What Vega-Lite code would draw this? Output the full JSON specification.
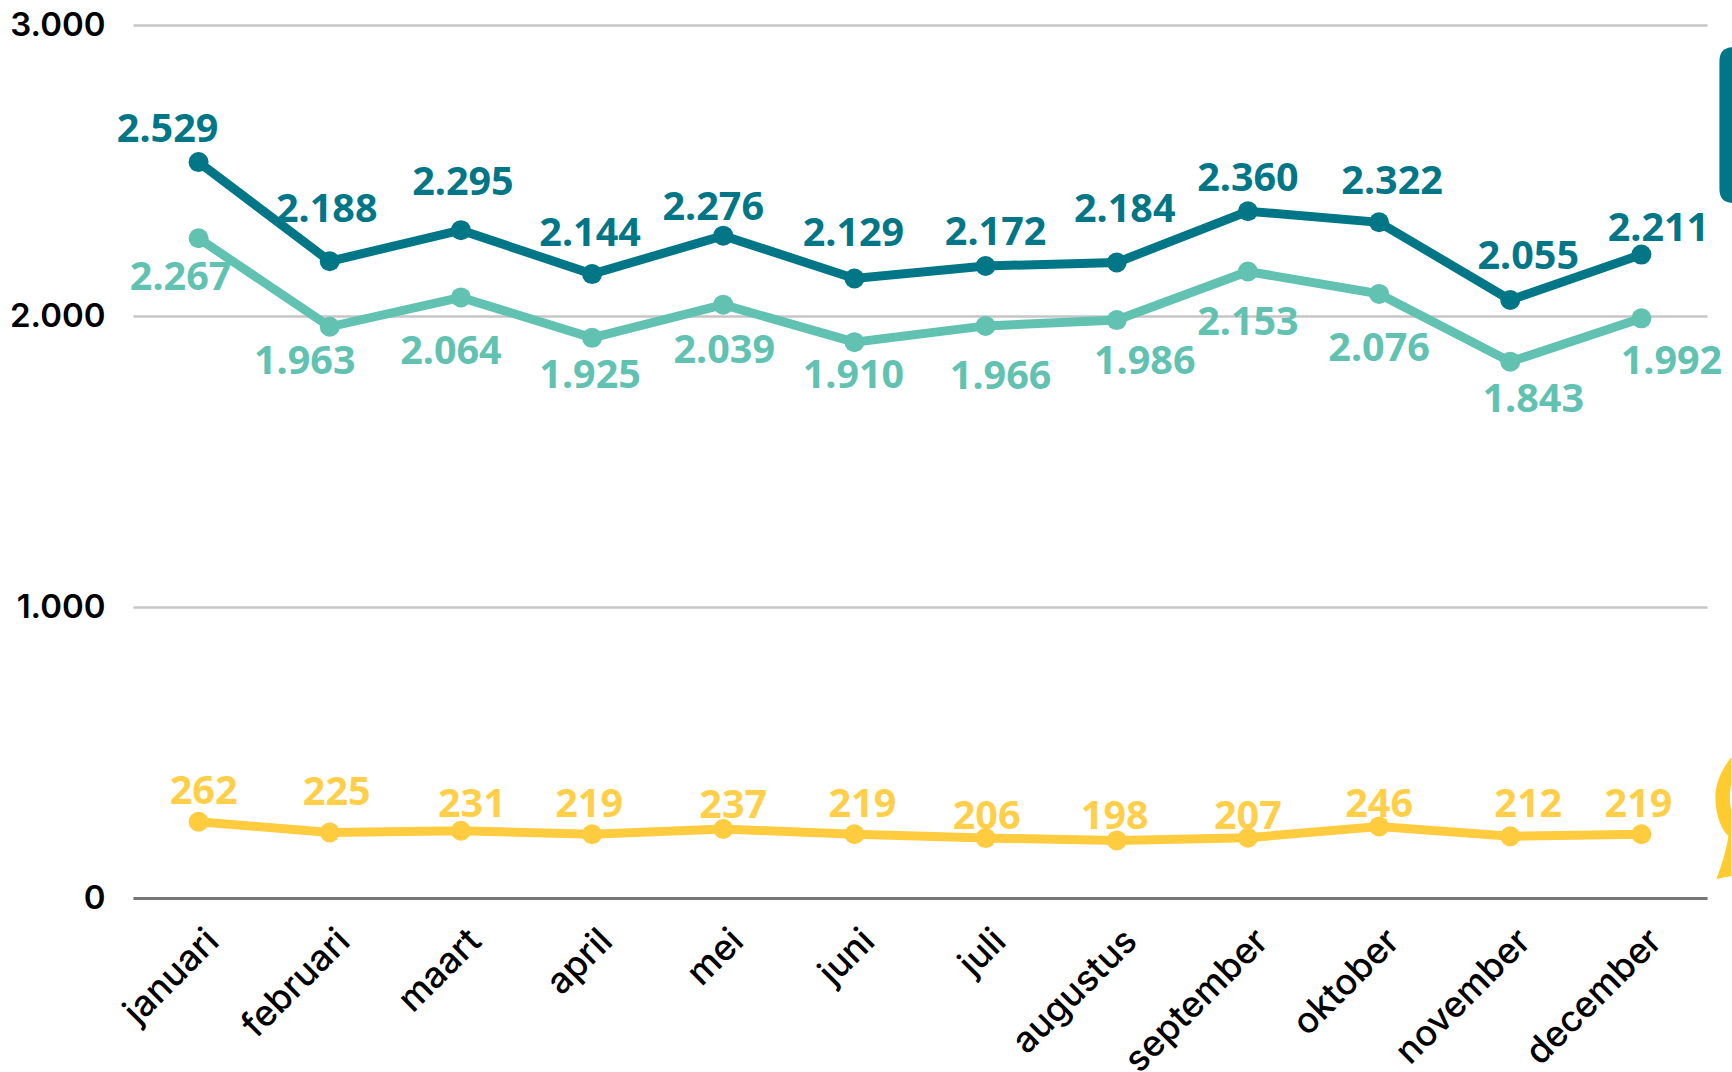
{"$schema":"https://vega.github.io/schema/vega-lite/v6.json","width":1574,"height":873,"autosize":{"type":"none"},"padding":{"left":133,"top":25,"right":25,"bottom":174},"background":"#ffffff","config":{"view":{"stroke":null},"locale":{"number":{"decimal":",","thousands":".","grouping":[3],"currency":["€",""]}},"text":{"font":"Noto Sans","fontSize":39.5,"fontWeight":700,"align":"center","baseline":"middle"}},"datasets":{"rows":[
{"m":"januari","s":"A","v":2529},{"m":"februari","s":"A","v":2188},{"m":"maart","s":"A","v":2295},{"m":"april","s":"A","v":2144},{"m":"mei","s":"A","v":2276},{"m":"juni","s":"A","v":2129},{"m":"juli","s":"A","v":2172},{"m":"augustus","s":"A","v":2184},{"m":"september","s":"A","v":2360},{"m":"oktober","s":"A","v":2322},{"m":"november","s":"A","v":2055},{"m":"december","s":"A","v":2211},
{"m":"januari","s":"B","v":2267},{"m":"februari","s":"B","v":1963},{"m":"maart","s":"B","v":2064},{"m":"april","s":"B","v":1925},{"m":"mei","s":"B","v":2039},{"m":"juni","s":"B","v":1910},{"m":"juli","s":"B","v":1966},{"m":"augustus","s":"B","v":1986},{"m":"september","s":"B","v":2153},{"m":"oktober","s":"B","v":2076},{"m":"november","s":"B","v":1843},{"m":"december","s":"B","v":1992},
{"m":"januari","s":"C","v":262},{"m":"februari","s":"C","v":225},{"m":"maart","s":"C","v":231},{"m":"april","s":"C","v":219},{"m":"mei","s":"C","v":237},{"m":"juni","s":"C","v":219},{"m":"juli","s":"C","v":206},{"m":"augustus","s":"C","v":198},{"m":"september","s":"C","v":207},{"m":"oktober","s":"C","v":246},{"m":"november","s":"C","v":212},{"m":"december","s":"C","v":219}]},
"data":{"name":"rows"},
"encoding":{"x":{"field":"m","type":"ordinal","sort":null,"scale":{"type":"point","padding":0.5,"domain":["januari","februari","maart","april","mei","juni","juli","augustus","september","oktober","november","december"]},"axis":{"title":null,"labelAngle":-45,"labelAlign":"right","labelBaseline":"middle","labelFont":"Inter","labelFontSize":36,"labelFontWeight":500,"labelColor":"#000000","labelPadding":37,"labelOffset":14,"labelLimit":500,"labelOverlap":false,"ticks":false,"domainColor":"#777777","domainWidth":3,"grid":false}},
"y":{"field":"v","type":"quantitative","scale":{"domain":[0,3000],"nice":false},"axis":{"title":null,"values":[0,1000,2000,3000],"format":",d","labelFont":"Inter","labelFontSize":33,"labelFontWeight":600,"labelColor":"#000000","labelPadding":28,"labelOffset":0,"ticks":false,"domain":false,"grid":true,"gridColor":"#C6C6C6","gridWidth":2.6}}},
"layer":[
{"mark":{"type":"line","strokeWidth":9},"encoding":{"color":{"field":"s","scale":{"domain":["A","B","C"],"range":["#007687","#61C2B1","#FFCC40"]},"legend":null}}},
{"mark":{"type":"point","filled":true,"opacity":1,"size":400},"encoding":{"color":{"field":"s","scale":{"domain":["A","B","C"],"range":["#007687","#61C2B1","#FFCC40"]},"legend":null}}},
{"data":{"values":[{"m":"december","v":2656}]},"mark":{"type":"point","filled":true,"opacity":1,"size":10000,"color":"#007687","xOffset":90,"shape":"M -.24 -1.28 Q -.24 -1.56 .04 -1.56 L .8 -1.56 L .8 1.56 L .04 1.56 Q -.24 1.56 -.24 1.28 Z"}},
{"data":{"values":[{"m":"december","v":268}]},"mark":{"type":"point","filled":true,"opacity":1,"size":10000,"color":"#FFCB2F","xOffset":90,"shape":"M 0 -1.26 C -.2 -1 -.32 -.74 -.32 -.46 C -.32 -.1 -.2 .2 -.06 .32 C -.1 .6 -.2 .92 -.3 1.18 L 0 1.12 L 0 -.2 C -.04 -.3 -.04 -.6 0 -.7 Z"}},
{"transform":[{"filter":"datum.s=='A'"}],"encoding":{"text":{"field":"v","type":"quantitative","format":",d"}},"layer":[
{"transform":[{"filter":"datum.m=='januari'"}],"mark":{"type":"text","color":"#007687","dx":-31,"dy":-32}},
{"transform":[{"filter":"datum.m=='februari'"}],"mark":{"type":"text","color":"#007687","dx":-3,"dy":-51}},
{"transform":[{"filter":"datum.m=='maart'"}],"mark":{"type":"text","color":"#007687","dx":2,"dy":-47}},
{"transform":[{"filter":"datum.m=='april'"}],"mark":{"type":"text","color":"#007687","dx":-2,"dy":-40}},
{"transform":[{"filter":"datum.m=='mei'"}],"mark":{"type":"text","color":"#007687","dx":-10,"dy":-28}},
{"transform":[{"filter":"datum.m=='juni'"}],"mark":{"type":"text","color":"#007687","dx":-1,"dy":-44}},
{"transform":[{"filter":"datum.m=='juli'"}],"mark":{"type":"text","color":"#007687","dx":10,"dy":-33}},
{"transform":[{"filter":"datum.m=='augustus'"}],"mark":{"type":"text","color":"#007687","dx":8,"dy":-52}},
{"transform":[{"filter":"datum.m=='september'"}],"mark":{"type":"text","color":"#007687","dx":0,"dy":-32}},
{"transform":[{"filter":"datum.m=='oktober'"}],"mark":{"type":"text","color":"#007687","dx":13,"dy":-40}},
{"transform":[{"filter":"datum.m=='november'"}],"mark":{"type":"text","color":"#007687","dx":18,"dy":-43}},
{"transform":[{"filter":"datum.m=='december'"}],"mark":{"type":"text","color":"#007687","dx":17,"dy":-26}}]},
{"transform":[{"filter":"datum.s=='B'"}],"encoding":{"text":{"field":"v","type":"quantitative","format":",d"}},"layer":[
{"transform":[{"filter":"datum.m=='januari'"}],"mark":{"type":"text","color":"#61C2B1","dx":-18,"dy":40}},
{"transform":[{"filter":"datum.m=='februari'"}],"mark":{"type":"text","color":"#61C2B1","dx":-25,"dy":35}},
{"transform":[{"filter":"datum.m=='maart'"}],"mark":{"type":"text","color":"#61C2B1","dx":-10,"dy":55}},
{"transform":[{"filter":"datum.m=='april'"}],"mark":{"type":"text","color":"#61C2B1","dx":-2,"dy":38}},
{"transform":[{"filter":"datum.m=='mei'"}],"mark":{"type":"text","color":"#61C2B1","dx":1,"dy":46}},
{"transform":[{"filter":"datum.m=='juni'"}],"mark":{"type":"text","color":"#61C2B1","dx":-1,"dy":34}},
{"transform":[{"filter":"datum.m=='juli'"}],"mark":{"type":"text","color":"#61C2B1","dx":15,"dy":51}},
{"transform":[{"filter":"datum.m=='augustus'"}],"mark":{"type":"text","color":"#61C2B1","dx":28,"dy":42}},
{"transform":[{"filter":"datum.m=='september'"}],"mark":{"type":"text","color":"#61C2B1","dx":0,"dy":52}},
{"transform":[{"filter":"datum.m=='oktober'"}],"mark":{"type":"text","color":"#61C2B1","dx":0,"dy":55}},
{"transform":[{"filter":"datum.m=='november'"}],"mark":{"type":"text","color":"#61C2B1","dx":23,"dy":38}},
{"transform":[{"filter":"datum.m=='december'"}],"mark":{"type":"text","color":"#61C2B1","dx":30,"dy":44}}]},
{"transform":[{"filter":"datum.s=='C'"}],"encoding":{"text":{"field":"v","type":"quantitative","format":",d"}},"layer":[
{"transform":[{"filter":"datum.m=='januari'"}],"mark":{"type":"text","color":"#FFCF4A","dx":5,"dy":-30}},
{"transform":[{"filter":"datum.m=='februari'"}],"mark":{"type":"text","color":"#FFCF4A","dx":7,"dy":-40}},
{"transform":[{"filter":"datum.m=='maart'"}],"mark":{"type":"text","color":"#FFCF4A","dx":11,"dy":-26}},
{"transform":[{"filter":"datum.m=='april'"}],"mark":{"type":"text","color":"#FFCF4A","dx":-3,"dy":-29}},
{"transform":[{"filter":"datum.m=='mei'"}],"mark":{"type":"text","color":"#FFCF4A","dx":10,"dy":-23}},
{"transform":[{"filter":"datum.m=='juni'"}],"mark":{"type":"text","color":"#FFCF4A","dx":8,"dy":-29}},
{"transform":[{"filter":"datum.m=='juli'"}],"mark":{"type":"text","color":"#FFCF4A","dx":1,"dy":-21}},
{"transform":[{"filter":"datum.m=='augustus'"}],"mark":{"type":"text","color":"#FFCF4A","dx":-2,"dy":-23}},
{"transform":[{"filter":"datum.m=='september'"}],"mark":{"type":"text","color":"#FFCF4A","dx":0,"dy":-21}},
{"transform":[{"filter":"datum.m=='oktober'"}],"mark":{"type":"text","color":"#FFCF4A","dx":0,"dy":-21}},
{"transform":[{"filter":"datum.m=='november'"}],"mark":{"type":"text","color":"#FFCF4A","dx":18,"dy":-31}},
{"transform":[{"filter":"datum.m=='december'"}],"mark":{"type":"text","color":"#FFCF4A","dx":-3,"dy":-29}}]}
]}
